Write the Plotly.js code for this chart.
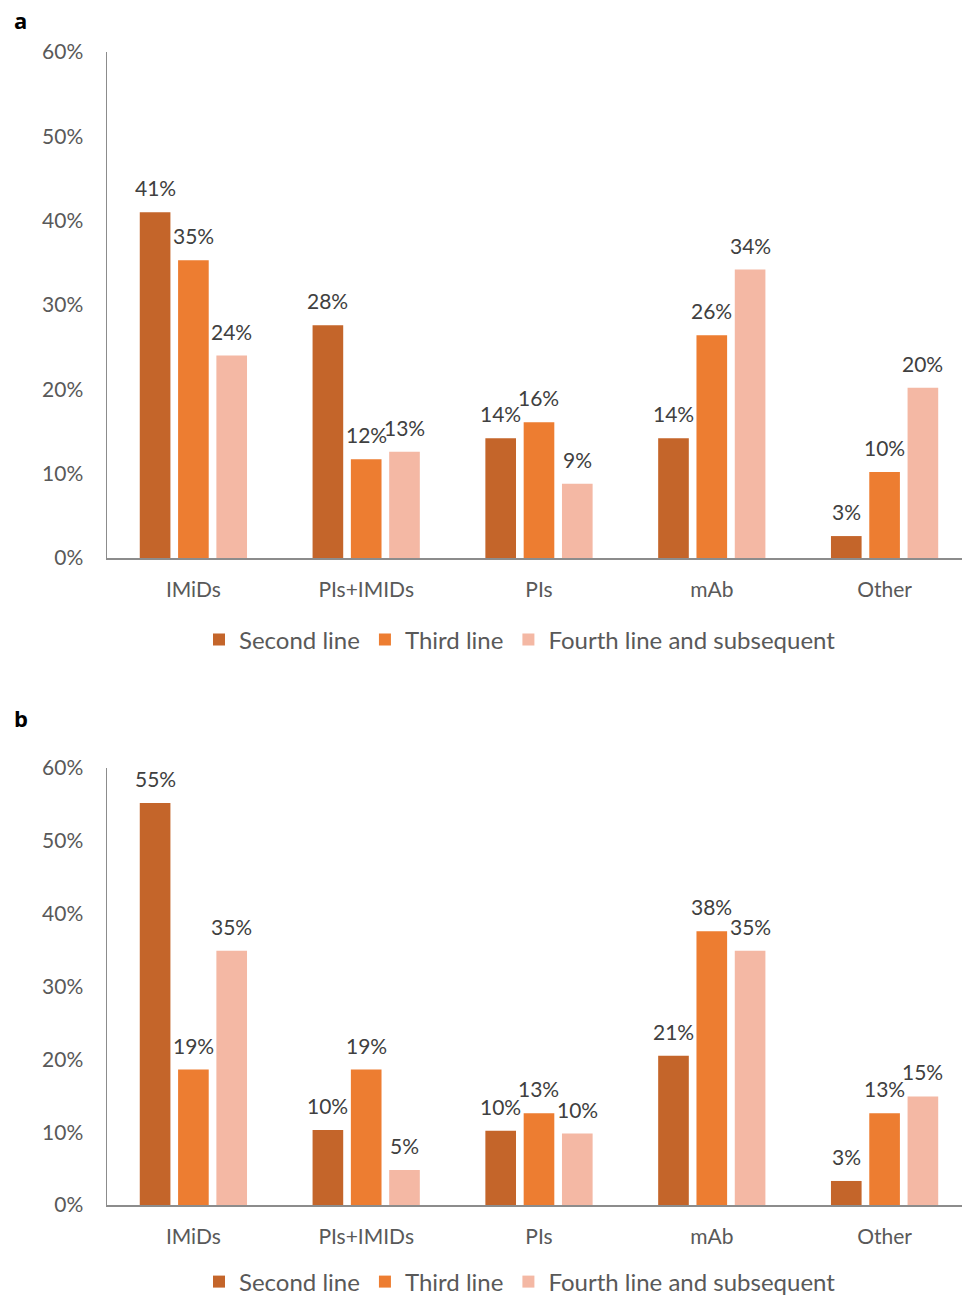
<!DOCTYPE html>
<html>
<head>
<meta charset="utf-8">
<script src="https://cdn.plot.ly/plotly-3.0.1.min.js"></script>
<style>html,body{margin:0;padding:0;background:#fff;}#chart{width:962px;height:1299px;}</style>
</head>
<body>
<div id="chart"></div>
<script>
const categories = ['IMiDs', 'PIs+IMIDs', 'PIs', 'mAb', 'Other'];
const seriesNames = ['Second line', 'Third line', 'Fourth line and subsequent'];
const seriesColors = ['#C4652A', '#ED7D31', '#F4B8A4'];

// Panel a values (%)
const aSecond = [41.0, 27.6, 14.2, 14.2, 2.6];
const aThird  = [35.3, 11.7, 16.1, 26.4, 10.2];
const aFourth = [24.0, 12.6, 8.8, 34.2, 20.2];

// Panel b values (%)
const bSecond = [55.2, 10.3, 10.2, 20.5, 3.3];
const bThird  = [18.6, 18.6, 12.6, 37.6, 12.6];
const bFourth = [34.9, 4.8, 9.8, 34.9, 14.9];

const yTickVals = [0, 10, 20, 30, 40, 50, 60];
const yTickText = ['0%', '10%', '20%', '30%', '40%', '50%', '60%'];

const FONT = 'Lato, "Open Sans", sans-serif';
const BARGAP = 0.335;
const NSER = 3;

function makeTraces(values, xa, ya, legendId) {
  return values.map((vals, i) => ({
    type: 'bar',
    name: seriesNames[i],
    x: categories,
    y: vals,
    xaxis: xa,
    yaxis: ya,
    legend: legendId,
    marker: { color: seriesColors[i] },
    hoverinfo: 'skip'
  }));
}

// value labels placed at each bar's top through the axes' scales
function makeLabels(values, xa, ya) {
  const slot = (1 - BARGAP) / NSER;
  const out = [];
  values.forEach((vals, i) => {
    vals.forEach((v, j) => {
      out.push({
        xref: xa, yref: ya,
        x: j + (i - (NSER - 1) / 2) * slot, y: v,
        text: Math.round(v) + '%',
        showarrow: false, xanchor: 'center', yanchor: 'bottom', yshift: 10,
        font: { family: FONT, size: 21, color: '#404040' }
      });
    });
  });
  return out;
}

const aVals = [aSecond, aThird, aFourth];
const bVals = [bSecond, bThird, bFourth];

const data = [
  ...makeTraces(aVals, 'x', 'y', 'legend'),
  ...makeTraces(bVals, 'x2', 'y2', 'legend2')
];

const W = 962, H = 1299;
const xDom = [107 / W, 1];
const xRange = [-0.5, 4.448];

function yAxis(domain, anchor) {
  return {
    domain: domain, anchor: anchor, range: [0, 60], fixedrange: true,
    tickvals: yTickVals, ticktext: yTickText, ticks: '',
    showgrid: false, zeroline: false,
    showline: true, linecolor: '#8C8C8C', linewidth: 1.5,
    ticklabelstandoff: 18,
    tickfont: { family: FONT, size: 21, color: '#595959' }
  };
}
function xAxis(anchor) {
  return {
    domain: xDom, anchor: anchor, range: xRange, type: 'category',
    ticks: '', showgrid: false, zeroline: false,
    showline: true, linecolor: '#8C8C8C', linewidth: 1.5,
    ticklabelstandoff: 12,
    tickfont: { family: FONT, size: 21, color: '#595959' }
  };
}

const legendBase = {
  orientation: 'h', xanchor: 'center', yanchor: 'middle', x: 520 / W,
  font: { family: FONT, size: 24, color: '#595959' },
  itemwidth: 30, tracegroupgap: 0, bgcolor: 'rgba(0,0,0,0)'
};

const layout = {
  width: W, height: H,
  margin: { l: 0, r: 0, t: 0, b: 0, autoexpand: false },
  paper_bgcolor: '#ffffff', plot_bgcolor: '#ffffff',
  barmode: 'group', bargap: BARGAP, bargroupgap: 0.2,
  showlegend: true,
  font: { family: FONT },
  xaxis: xAxis('y'),
  yaxis: yAxis([1 - 558 / H, 1 - 52 / H], 'x'),
  xaxis2: xAxis('y2'),
  yaxis2: yAxis([1 - 1205 / H, 1 - 768 / H], 'x2'),
  legend: Object.assign({}, legendBase, { y: 1 - 640 / H }),
  legend2: Object.assign({}, legendBase, { y: 1 - 1282 / H }),
  annotations: [
    { text: '<b>a</b>', xref: 'paper', yref: 'paper', x: 12 / W, y: 1 - 20 / H,
      xanchor: 'left', yanchor: 'middle', showarrow: false,
      font: { family: '"Open Sans", sans-serif', size: 22, color: '#000' } },
    { text: '<b>b</b>', xref: 'paper', yref: 'paper', x: 12 / W, y: 1 - 718 / H,
      xanchor: 'left', yanchor: 'middle', showarrow: false,
      font: { family: '"Open Sans", sans-serif', size: 22, color: '#000' } },
    ...makeLabels(aVals, 'x', 'y'),
    ...makeLabels(bVals, 'x2', 'y2')
  ]
};

Plotly.newPlot('chart', data, layout, { displayModeBar: false, staticPlot: true });
</script>
</body>
</html>
